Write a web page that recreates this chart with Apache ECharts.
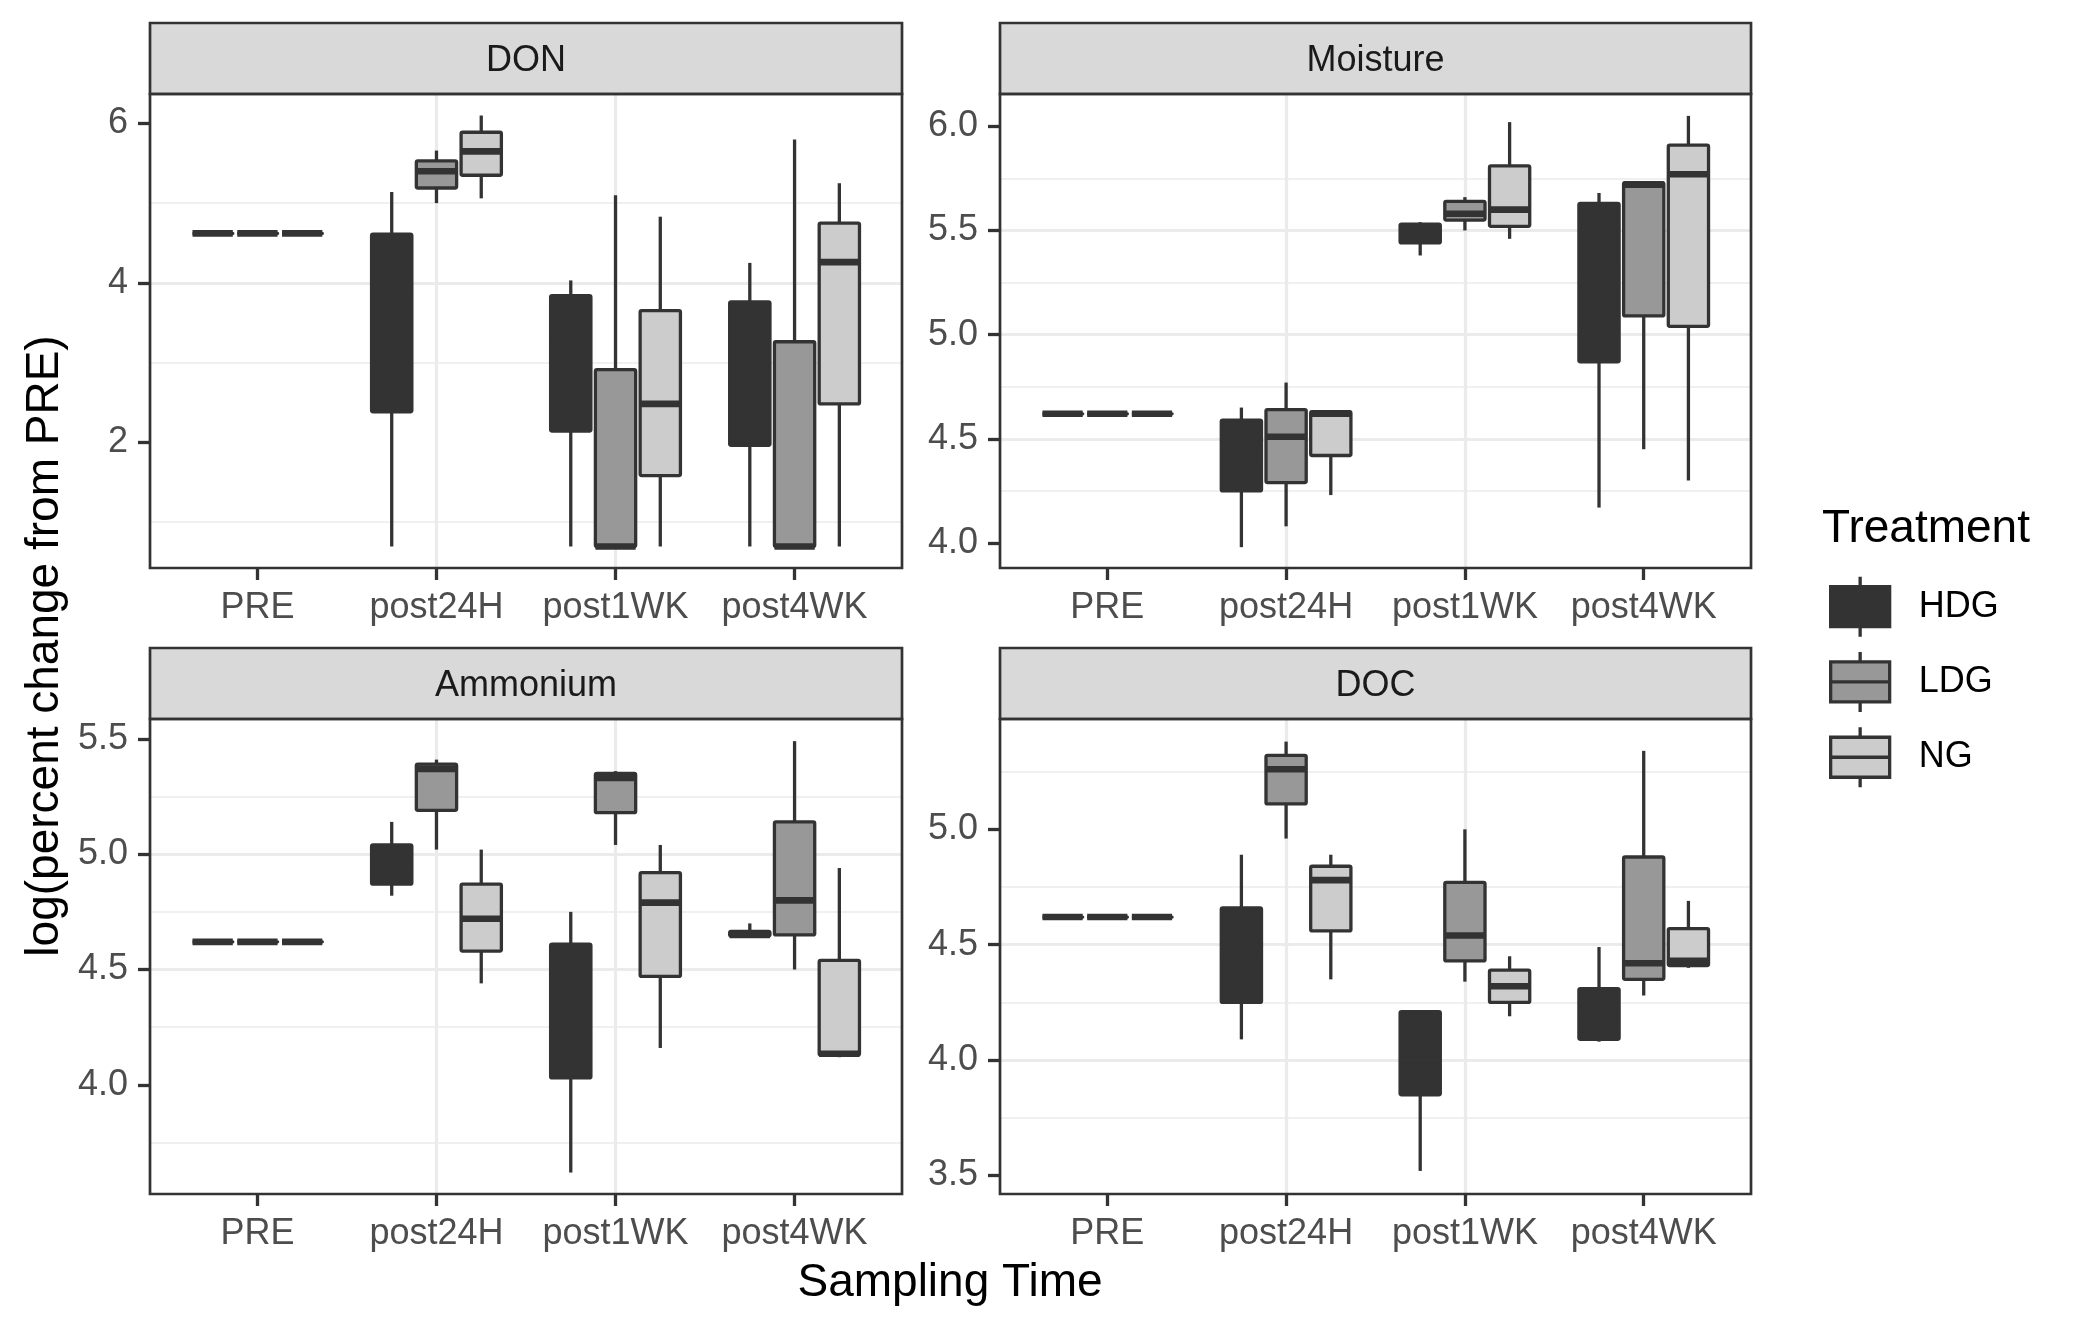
<!DOCTYPE html>
<html>
<head>
<meta charset="utf-8">
<title>log(percent change from PRE)</title>
<script src="https://cdn.jsdelivr.net/npm/echarts@6/dist/echarts.min.js"></script>
<style>
  html, body { margin: 0; padding: 0; background: #fff; }
  #chart { width: 2078px; height: 1328px; }
</style>
</head>
<body>
<div id="chart"></div>
<script>
const categories = ['PRE', 'post24H', 'post1WK', 'post4WK'];
const treatments = ['HDG', 'LDG', 'NG'];
const panelNames = ['DON', 'Moisture', 'Ammonium', 'DOC'];

// each row: [lower whisker, Q1, median, Q3, upper whisker], one row per sampling time
const donHDG = [[4.62, 4.62, 4.62, 4.62, 4.62], [0.69, 2.38, 3.9, 4.61, 5.14], [0.69, 2.14, 3.3, 3.84, 4.03], [0.69, 1.96, 3.0, 3.76, 4.25]];
const donLDG = [[4.62, 4.62, 4.62, 4.62, 4.62], [5.0, 5.19, 5.4, 5.53, 5.66], [0.69, 0.69, 0.69, 2.91, 5.1], [0.69, 0.69, 0.69, 3.26, 5.8]];
const donNG = [[4.62, 4.62, 4.62, 4.62, 4.62], [5.06, 5.35, 5.65, 5.89, 6.1], [0.69, 1.58, 2.48, 3.65, 4.83], [0.69, 2.48, 4.26, 4.75, 5.25]];

const moistHDG = [[4.62, 4.62, 4.62, 4.62, 4.62], [3.98, 4.25, 4.42, 4.59, 4.65], [5.38, 5.44, 5.49, 5.53, 5.54], [4.17, 4.87, 5.3, 5.63, 5.68]];
const moistLDG = [[4.62, 4.62, 4.62, 4.62, 4.62], [4.08, 4.29, 4.51, 4.64, 4.77], [5.5, 5.55, 5.58, 5.64, 5.66], [4.45, 5.09, 5.72, 5.73, 5.73]];
const moistNG = [[4.62, 4.62, 4.62, 4.62, 4.62], [4.23, 4.42, 4.62, 4.63, 4.63], [5.46, 5.52, 5.6, 5.81, 6.02], [4.3, 5.04, 5.77, 5.91, 6.05]];

const ammHDG = [[4.62, 4.62, 4.62, 4.62, 4.62], [4.82, 4.87, 4.95, 5.04, 5.14], [3.62, 4.03, 4.3, 4.61, 4.75], [4.64, 4.645, 4.65, 4.665, 4.7]];
const ammLDG = [[4.62, 4.62, 4.62, 4.62, 4.62], [5.02, 5.19, 5.37, 5.39, 5.41], [5.04, 5.18, 5.33, 5.35, 5.36], [4.5, 4.65, 4.8, 5.14, 5.49]];
const ammNG = [[4.62, 4.62, 4.62, 4.62, 4.62], [4.44, 4.58, 4.72, 4.87, 5.02], [4.16, 4.47, 4.79, 4.92, 5.04], [4.12, 4.13, 4.135, 4.54, 4.94]];

const docHDG = [[4.62, 4.62, 4.62, 4.62, 4.62], [4.09, 4.25, 4.45, 4.66, 4.89], [3.52, 3.85, 4.0, 4.21, 4.21], [4.08, 4.09, 4.2, 4.31, 4.49]];
const docLDG = [[4.62, 4.62, 4.62, 4.62, 4.62], [4.96, 5.11, 5.26, 5.32, 5.38], [4.34, 4.43, 4.54, 4.77, 5.0], [4.28, 4.35, 4.42, 4.88, 5.34]];
const docNG = [[4.62, 4.62, 4.62, 4.62, 4.62], [4.35, 4.56, 4.78, 4.84, 4.89], [4.19, 4.25, 4.32, 4.39, 4.45], [4.4, 4.41, 4.43, 4.57, 4.69]];

const yLimits = [[0.42, 6.37], [3.88, 6.155], [3.527, 5.586], [3.42, 5.478]];
const yTicks = [[2, 4, 6], [4.0, 4.5, 5.0, 5.5, 6.0], [4.0, 4.5, 5.0, 5.5], [3.5, 4.0, 4.5, 5.0]];
const yStep = [2, 0.5, 0.5, 0.5];
const yDigits = [0, 1, 1, 1];

const boxData = [
  [donHDG, donLDG, donNG],
  [moistHDG, moistLDG, moistNG],
  [ammHDG, ammLDG, ammNG],
  [docHDG, docLDG, docNG]
];

const fills = ['#333333', '#989898', '#cccccc'];
const dodge = [-0.25, 0, 0.25];
const boxWidth = 0.225;
const ink = '#333333';
const font = '"Liberation Sans", Arial, sans-serif';

const panels = [
  { left: 150, top: 94, width: 752, height: 474 },
  { left: 1000, top: 94, width: 751, height: 474 },
  { left: 150, top: 719, width: 752, height: 475 },
  { left: 1000, top: 719, width: 751, height: 475 }
];
const stripH = 71;

function boxRenderer(offset, fill) {
  return function (params, api) {
    const x = api.value(0) + offset;
    const lo = api.coord([x, api.value(1)]);
    const q1 = api.coord([x, api.value(2)]);
    const md = api.coord([x, api.value(3)]);
    const q3 = api.coord([x, api.value(4)]);
    const hi = api.coord([x, api.value(5)]);
    const w = api.size([boxWidth, 0])[0];
    const cx = q1[0];
    const whisker = { stroke: ink, lineWidth: 3.3 };
    return {
      type: 'group',
      children: [
        { type: 'line', shape: { x1: cx, y1: q3[1], x2: cx, y2: hi[1] }, style: whisker },
        { type: 'line', shape: { x1: cx, y1: q1[1], x2: cx, y2: lo[1] }, style: whisker },
        {
          type: 'rect',
          shape: { x: cx - w / 2, y: q3[1], width: w, height: q1[1] - q3[1], r: 1.5 },
          style: { fill: fill, stroke: ink, lineWidth: 3.3, lineJoin: 'round' }
        },
        { type: 'line', shape: { x1: cx - w / 2, y1: md[1], x2: cx + w / 2, y2: md[1] }, style: { stroke: ink, lineWidth: 6.6 } }
      ]
    };
  };
}

const grids = panels.map(p => ({ left: p.left, top: p.top, width: p.width, height: p.height, show: false }));

const xAxes = panels.map((p, i) => ({
  type: 'value',
  gridIndex: i,
  min: 0.4,
  max: 4.6,
  minInterval: 1,
  maxInterval: 1,
  axisLine: { show: false },
  axisTick: { show: true, length: 12, customValues: [1, 2, 3, 4], lineStyle: { color: ink, width: 3.3 } },
  axisLabel: {
    customValues: [1, 2, 3, 4],
    formatter: v => categories[Math.round(v) - 1] || '',
    fontSize: 36, color: '#4d4d4d', fontFamily: font, margin: 22
  },
  splitLine: { show: true, showMinLine: false, showMaxLine: false, lineStyle: { color: '#ebebeb', width: 3.2 } }
}));

const yAxes = panels.map((p, i) => ({
  type: 'value',
  gridIndex: i,
  min: yLimits[i][0],
  max: yLimits[i][1],
  minInterval: yStep[i],
  maxInterval: yStep[i],
  axisLine: { show: false },
  axisTick: { show: true, length: 12, customValues: yTicks[i], lineStyle: { color: ink, width: 3.3 } },
  axisLabel: {
    customValues: yTicks[i],
    formatter: v => v.toFixed(yDigits[i]),
    fontSize: 36, color: '#4d4d4d', fontFamily: font, margin: 22,
    padding: [7, 0, 0, 0]
  },
  splitLine: { show: true, showMinLine: false, showMaxLine: false, lineStyle: { color: '#ebebeb', width: 3.2 } },
  minorTick: { show: false, splitNumber: 2 },
  minorSplitLine: { show: true, lineStyle: { color: '#ebebeb', width: 1.6 } }
}));

const series = [];
boxData.forEach((panelSets, pi) => {
  panelSets.forEach((rows, ti) => {
    series.push({
      type: 'custom',
      name: treatments[ti],
      xAxisIndex: pi,
      yAxisIndex: pi,
      itemStyle: { color: fills[ti] },
      renderItem: boxRenderer(dodge[ti], fills[ti]),
      encode: { x: 0, y: [1, 2, 3, 4, 5] },
      data: rows.map((r, ci) => [ci + 1].concat(r))
    });
  });
});

const keyIcon = 'path://M0,10L59,10L59,50L0,50ZM29.5,0L29.5,10M29.5,50L29.5,60M0,30L59,30';

const graphics = [];
panels.forEach((p, i) => {
  graphics.push({
    type: 'rect', z: 100,
    shape: { x: p.left, y: p.top - stripH, width: p.width, height: stripH },
    style: { fill: '#d9d9d9', stroke: ink, lineWidth: 2.7 }
  });
  graphics.push({
    type: 'text', z: 101, x: p.left + p.width / 2, y: p.top - stripH / 2 + 3,
    style: { text: panelNames[i], font: '36px ' + font, fill: '#1a1a1a', align: 'center', verticalAlign: 'middle', textAlign: 'center', textVerticalAlign: 'middle' }
  });
  graphics.push({
    type: 'rect', z: 100,
    shape: { x: p.left, y: p.top, width: p.width, height: p.height },
    style: { fill: 'none', stroke: ink, lineWidth: 2.7 }
  });
});
graphics.push({
  type: 'text', z: 101, x: 950, y: 1283,
  style: { text: 'Sampling Time', font: '46px ' + font, fill: '#000', align: 'center', verticalAlign: 'middle', textAlign: 'center', textVerticalAlign: 'middle' }
});
graphics.push({
  type: 'text', z: 101, x: 45, y: 646, rotation: Math.PI / 2,
  style: { text: 'log(percent change from PRE)', font: '46px ' + font, fill: '#000', align: 'center', verticalAlign: 'middle', textAlign: 'center', textVerticalAlign: 'middle' }
});
graphics.push({
  type: 'text', z: 101, x: 1822, y: 529,
  style: { text: 'Treatment', font: '46px ' + font, fill: '#000', align: 'left', verticalAlign: 'middle', textAlign: 'left', textVerticalAlign: 'middle' }
});

const chart = echarts.init(document.getElementById('chart'));
chart.setOption({
  backgroundColor: '#ffffff',
  animation: false,
  grid: grids,
  xAxis: xAxes,
  yAxis: yAxes,
  legend: {
    orient: 'vertical',
    left: 1829,
    top: 575,
    padding: 0,
    itemWidth: 59,
    itemHeight: 60,
    itemGap: 12,
    symbolKeepAspect: false,
    selectedMode: false,
    textStyle: { fontSize: 36, color: '#000', fontFamily: font, padding: [4, 0, 0, 24] },
    data: treatments.map((t, i) => ({
      name: t,
      icon: keyIcon,
      itemStyle: { color: fills[i], borderColor: ink, borderWidth: 3.3 }
    }))
  },
  graphic: graphics,
  series: series
});
</script>
</body>
</html>
